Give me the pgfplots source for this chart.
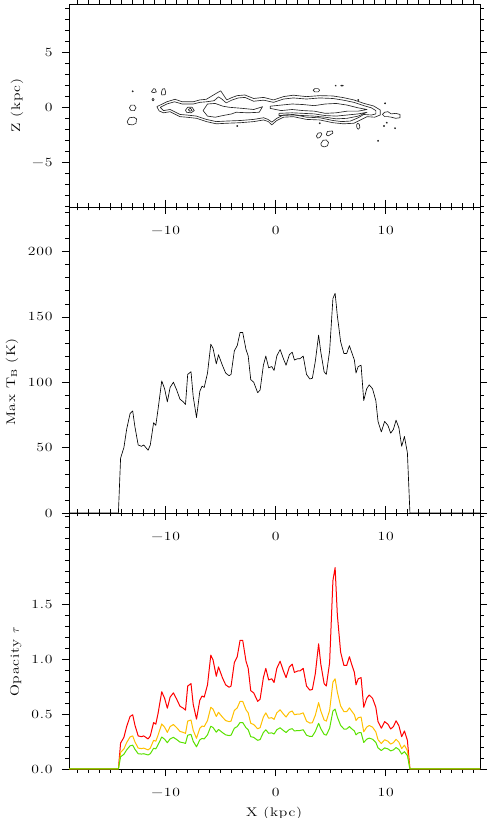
\documentclass[border=0pt]{standalone}
\usepackage{fontspec}
\setmainfont{Latin Modern Roman}[FakeStretch=1.25, LetterSpace=6]
\usepackage{pgfplots}
\usepackage{pgfplotstable}
\pgfplotsset{compat=1.18}
\definecolor{cred}{RGB}{255,0,0}
\definecolor{corange}{RGB}{255,192,0}
\definecolor{cgreen}{RGB}{90,225,0}

\pgfplotstableread{
x T r o g
-18.79 0 0 0 0
-14.3 0 0 0 0
-14.1 42 0.236 0.151 0.111
-13.8 50 0.288 0.182 0.134
-13.55 64 0.386 0.240 0.174
-13.24 76 0.478 0.292 0.211
-13.0 78 0.494 0.301 0.217
-12.8 66 0.400 0.248 0.180
-12.5 52 0.301 0.190 0.139
-12.2 51 0.294 0.186 0.136
-12.0 52 0.301 0.190 0.139
-11.6 48 0.274 0.174 0.128
-11.4 52 0.301 0.190 0.139
-11.1 69 0.423 0.261 0.189
-10.9 67 0.408 0.253 0.183
-10.7 79 0.503 0.306 0.220
-10.36 101 0.703 0.410 0.291
-10.1 95 0.644 0.381 0.271
-9.85 85 0.553 0.333 0.239
-9.6 96 0.654 0.386 0.274
-9.3 100 0.693 0.405 0.288
-9.0 94 0.635 0.376 0.268
-8.7 87 0.571 0.342 0.245
-8.4 85 0.553 0.333 0.239
-8.2 83 0.536 0.324 0.233
-8.0 106 0.755 0.436 0.308
-7.7 108 0.777 0.446 0.315
-7.5 89 0.589 0.352 0.252
-7.2 73 0.454 0.279 0.202
-6.9 93 0.626 0.371 0.265
-6.7 97 0.664 0.391 0.278
-6.5 96 0.654 0.386 0.274
-6.2 107 0.766 0.441 0.311
-5.9 129 1.036 0.562 0.389
-5.7 126 0.994 0.545 0.378
-5.4 114 0.844 0.478 0.335
-5.2 121 0.929 0.516 0.360
-4.85 113 0.832 0.473 0.332
-4.55 107 0.766 0.441 0.311
-4.24 105 0.744 0.431 0.304
-4.06 106 0.755 0.436 0.308
-3.76 124 0.968 0.533 0.371
-3.5 128 1.022 0.556 0.386
-3.24 138 1.171 0.616 0.423
-3.0 138 1.171 0.616 0.423
-2.7 125 0.981 0.539 0.375
-2.5 120 0.916 0.511 0.357
-2.27 102 0.713 0.416 0.294
-2.0 100 0.693 0.405 0.288
-1.64 92 0.616 0.366 0.261
-1.42 94 0.635 0.376 0.268
-1.12 113 0.832 0.473 0.332
-0.9 120 0.916 0.511 0.357
-0.64 111 0.810 0.462 0.325
-0.36 112 0.821 0.467 0.329
-0.15 109 0.787 0.452 0.318
0.1 120 0.916 0.511 0.357
0.4 125 0.981 0.539 0.375
0.7 118 0.892 0.500 0.350
0.94 113 0.832 0.473 0.332
1.24 121 0.929 0.516 0.360
1.5 123 0.954 0.528 0.367
1.7 117 0.879 0.494 0.346
2.0 118 0.892 0.500 0.350
2.2 118 0.892 0.500 0.350
2.5 120 0.916 0.511 0.357
2.8 106 0.755 0.436 0.308
3.1 102.5 0.718 0.418 0.296
3.33 103 0.724 0.421 0.298
3.6 116 0.868 0.489 0.342
3.9 136 1.139 0.604 0.416
4.1 123 0.954 0.528 0.367
4.4 108 0.777 0.446 0.315
4.6 106 0.755 0.436 0.308
4.9 124 0.968 0.533 0.371
5.2 164 1.715 0.791 0.528
5.4 168 1.833 0.821 0.545
5.6 151 1.406 0.700 0.474
5.9 131 1.064 0.574 0.397
6.2 122 0.942 0.522 0.364
6.45 122 0.942 0.522 0.364
6.7 128 1.022 0.556 0.386
6.9 123 0.954 0.528 0.367
7.15 117 0.879 0.494 0.346
7.3 107 0.766 0.441 0.311
7.5 112 0.821 0.467 0.329
7.76 113 0.832 0.473 0.332
8.0 86 0.562 0.338 0.242
8.27 95 0.644 0.381 0.271
8.5 98 0.673 0.396 0.281
8.8 95 0.644 0.381 0.271
9.1 86 0.562 0.338 0.242
9.3 70 0.431 0.266 0.192
9.6 62 0.371 0.232 0.168
9.9 70 0.431 0.266 0.192
10.2 67 0.408 0.253 0.183
10.45 61 0.364 0.227 0.165
10.7 64 0.386 0.240 0.174
10.94 71 0.439 0.270 0.195
11.2 65 0.393 0.244 0.177
11.45 51 0.294 0.186 0.136
11.7 58.5 0.346 0.217 0.158
11.97 46 0.261 0.166 0.122
12.2 0 0 0 0
18.57 0 0 0 0
}\profile

\newcommand{\lblfont}{\fontsize{12.5}{15}\selectfont}
\pgfplotsset{
  panel/.style={
    scale only axis, width=411pt, anchor=south west,
    xmin=-18.79, xmax=18.57,
    xtick={-10,0,10}, xticklabels={−10,0,10},
    minor xtick={-18,-17,...,18},
    tick align=outside,
    major tick length=7pt, minor tick length=3.5pt,
    every tick/.style={black, line width=0.5pt},
    axis line style={line width=0.6pt},
    font=\lblfont,
    every tick label/.append style={font=\lblfont},
    every axis label/.append style={font=\lblfont},
    xticklabel style={yshift=-9pt},
    yticklabel style={xshift=-6pt},
    every axis y label/.style={rotate=90, anchor=base, font=\lblfont},
    clip=false,
  },
  cont/.style={black!85, line width=0.65pt, line join=round},
}

\begin{document}
\begin{tikzpicture}
\useasboundingbox (0pt,0pt) rectangle (489pt,818pt);

% ---------------- Panel 1: contours ----------------
\begin{axis}[panel, at={(69pt,611pt)}, height=203pt,
  ymin=-9.06, ymax=9.39,
  ytick={-5,0,5}, yticklabels={−5,0,5},
  minor ytick={-9,-8,...,9},
  ylabel={Z (kpc)},
  ylabel style={at={(axis description cs:-0.119,0.5)}}]
% outer level
\addplot[cont] coordinates {(-10.8,0.06) (-9.9,0.5) (-9.15,0.73) (-8.5,0.5) (-7.5,0.5) (-6.9,0.67) (-6.3,0.73) (-5.4,1.27) (-5.0,1.5) (-4.75,1.12) (-4.45,0.67) (-4.0,0.88) (-3.5,1.06) (-2.8,1.12) (-2.0,0.8) (-1.1,0.9) (-0.2,0.67) (0.7,0.97) (1.6,1.1) (2.8,0.97) (4.0,1.06) (5.2,1.03) (6.15,0.88) (7.1,0.67) (8.0,0.36) (8.9,0.12) (9.5,-0.24) (9.5,-0.7) (9.0,-0.9) (8.3,-0.85) (7.7,-1.15) (7.1,-1.45) (6.15,-1.5) (5.2,-1.4) (4.0,-1.15) (2.8,-1.1) (1.6,-0.85) (0.7,-0.9) (0.1,-1.2) (-0.36,-1.6) (-0.67,-1.3) (-1.1,-1.15) (-2.0,-1.3) (-3.2,-1.4) (-4.45,-1.45) (-5.4,-1.5) (-6.3,-1.3) (-7.2,-1.0) (-8.1,-0.9) (-8.7,-0.85) (-9.6,-0.4) (-10.2,-0.5) (-10.6,-0.33) (-10.8,0.06)};
% second level
\addplot[cont] coordinates {(-10.5,0.0) (-9.9,0.3) (-9.2,0.5) (-8.5,0.3) (-7.5,0.3) (-6.9,0.45) (-6.3,0.5) (-5.6,0.6) (-5.2,0.95) (-4.9,0.75) (-4.5,0.4) (-4.0,0.65) (-3.4,0.85) (-2.8,0.9) (-2.0,0.55) (-1.1,0.65) (-0.2,0.45) (0.7,0.75) (1.6,0.85) (2.8,0.75) (4.0,0.85) (5.2,0.8) (6.15,0.65) (7.1,0.45) (8.0,0.15) (8.7,-0.05) (9.1,-0.3) (9.1,-0.6) (8.7,-0.7) (8.0,-0.65) (7.5,-0.95) (6.8,-1.25) (6.0,-1.3) (5.2,-1.2) (4.0,-0.95) (2.8,-0.9) (1.6,-0.65) (0.7,-0.7) (0.1,-1.0) (-0.35,-1.35) (-0.7,-1.1) (-1.1,-0.95) (-2.0,-1.1) (-3.2,-1.2) (-4.45,-1.25) (-5.4,-1.3) (-6.3,-1.1) (-7.2,-0.8) (-8.1,-0.7) (-8.7,-0.65) (-9.6,-0.2) (-10.2,-0.3) (-10.5,0.0)};
% hole between the two bands
\addplot[cont] coordinates {(-0.5,0.1) (0.5,0.2) (1.5,0.3) (2.5,0.25) (3.5,0.15) (4.5,0.3) (5.5,0.35) (6.5,0.2) (7.5,-0.05) (8.3,-0.2) (7.5,-0.35) (6.5,-0.35) (5.5,-0.5) (4.5,-0.55) (3.5,-0.35) (2.5,-0.3) (1.5,-0.2) (0.5,-0.3) (-0.5,-0.1) (-0.5,0.1)};
% inner level pieces
\addplot[cont] coordinates {(0.3,-0.55) (1.5,-0.5) (2.5,-0.55) (3.5,-0.6) (4.5,-0.75) (5.5,-0.8) (6.5,-0.7) (7.5,-0.6) (8.3,-0.45) (7.5,-0.8) (6.5,-1.0) (5.5,-1.05) (4.5,-0.9) (3.5,-0.8) (2.5,-0.75) (1.5,-0.7) (0.3,-0.75) (0.3,-0.55)};
\addplot[cont] coordinates {(-6.6,-0.3) (-6.2,0.3) (-5.5,0.35) (-4.8,0.1) (-4.2,0.0) (-3.0,-0.1) (-2.0,-0.2) (-1.2,0.05) (-1.5,-0.45) (-2.5,-0.5) (-3.6,-0.45) (-4.0,-0.6) (-4.8,-0.75) (-5.5,-0.9) (-6.2,-0.8) (-6.6,-0.3)};
\addplot[cont] coordinates {(-8.2,-0.25) (-8.0,0.0) (-7.6,0.0) (-7.4,-0.3) (-7.7,-0.5) (-8.1,-0.45) (-8.2,-0.25)};
\addplot[cont] coordinates {(-7.95,-0.22) (-7.75,-0.08) (-7.6,-0.28) (-7.8,-0.36) (-7.95,-0.22)};
% isolated loops
\addplot[cont] coordinates {(-13.06,1.45) (-13.0,1.51) (-12.94,1.45) (-13.0,1.39) (-13.06,1.45)};
\addplot[cont] coordinates {(-13.3,-0.05) (-13.15,0.2) (-12.85,0.2) (-12.7,-0.05) (-12.85,-0.3) (-13.15,-0.3) (-13.3,-0.05)};
\addplot[cont] coordinates {(-13.5,-1.3) (-13.3,-0.95) (-12.9,-0.9) (-12.65,-1.05) (-12.7,-1.45) (-13.0,-1.6) (-13.4,-1.55) (-13.5,-1.3)};
\addplot[cont] coordinates {(-11.3,1.4) (-11.1,1.7) (-10.95,1.65) (-10.85,1.4) (-11.1,1.33) (-11.3,1.4)};
\addplot[cont] coordinates {(-10.4,1.3) (-10.3,1.65) (-10.1,1.7) (-10.0,1.4) (-10.05,1.15) (-10.35,1.12) (-10.4,1.3)};
\addplot[cont] coordinates {(-11.25,0.7) (-11.15,0.82) (-11.05,0.7) (-11.15,0.58) (-11.25,0.7)};
\addplot[cont] coordinates {(3.4,1.55) (3.55,1.7) (3.85,1.7) (4.0,1.55) (3.85,1.4) (3.55,1.4) (3.4,1.55)};
\addplot[cont] coordinates {(5.4,1.97) (5.45,2.02) (5.5,1.97) (5.45,1.92) (5.4,1.97)};
\addplot[cont] coordinates {(5.9,1.97) (6.0,2.02) (6.15,1.97) (6.0,1.92) (5.9,1.97)};
\addplot[cont] coordinates {(7.44,0.67) (7.5,0.73) (7.56,0.67) (7.5,0.61) (7.44,0.67)};
\addplot[cont] coordinates {(9.88,0.36) (9.94,0.42) (10.0,0.36) (9.94,0.3) (9.88,0.36)};
\addplot[cont] coordinates {(9.24,-3.05) (9.3,-2.99) (9.36,-3.05) (9.3,-3.11) (9.24,-3.05)};
\addplot[cont] coordinates {(10.04,-1.4) (10.1,-1.34) (10.16,-1.4) (10.1,-1.46) (10.04,-1.4)};
\addplot[cont] coordinates {(9.79,-1.7) (9.85,-1.64) (9.91,-1.7) (9.85,-1.76) (9.79,-1.7)};
\addplot[cont] coordinates {(10.79,-1.9) (10.85,-1.84) (10.91,-1.9) (10.85,-1.96) (10.79,-1.9)};
\addplot[cont] coordinates {(3.94,-1.45) (4.0,-1.39) (4.06,-1.45) (4.0,-1.51) (3.94,-1.45)};
\addplot[cont] coordinates {(-3.56,-1.7) (-3.5,-1.64) (-3.44,-1.7) (-3.5,-1.76) (-3.56,-1.7)};
\addplot[cont] coordinates {(7.35,-1.6) (7.45,-1.45) (7.6,-1.55) (7.65,-1.85) (7.5,-2.0) (7.38,-1.85) (7.35,-1.6)};
\addplot[cont] coordinates {(3.7,-2.6) (3.85,-2.35) (4.1,-2.3) (4.2,-2.45) (4.0,-2.75) (3.8,-2.8) (3.7,-2.6)};
\addplot[cont] coordinates {(4.6,-2.5) (4.7,-2.2) (5.15,-2.15) (5.2,-2.35) (4.95,-2.5) (4.75,-2.6) (4.6,-2.5)};
\addplot[cont] coordinates {(4.1,-3.3) (4.3,-3.0) (4.6,-2.97) (4.8,-3.2) (4.7,-3.5) (4.4,-3.6) (4.15,-3.5) (4.1,-3.3)};
\addplot[cont] coordinates {(9.7,-0.65) (9.9,-0.45) (10.2,-0.4) (10.5,-0.6) (10.9,-0.55) (11.3,-0.65) (11.3,-0.95) (10.9,-1.0) (10.5,-0.9) (10.2,-0.85) (9.9,-0.85) (9.7,-0.65)};
\end{axis}

% ---------------- Panel 2: Max TB ----------------
\begin{axis}[panel, at={(69pt,305pt)}, height=306pt,
  ymin=0, ymax=234,
  ytick={0,50,100,150,200}, yticklabels={0,50,100,150,200},
  minor ytick={10,20,...,230},
  ylabel={Max T\textsubscript{B} (K)},
  ylabel style={at={(axis description cs:-0.131,0.428)}}]
\addplot[black, line width=0.65pt, line join=round] table[x=x, y=T] {\profile};
\end{axis}

% ---------------- Panel 3: opacity ----------------
\begin{axis}[panel, at={(69pt,49pt)}, height=256pt,
  ymin=0, ymax=2.33,
  ytick={0,0.5,1,1.5}, yticklabels={0.0,0.5,1.0,1.5},
  minor ytick={0.1,0.2,0.3,0.4,0.6,0.7,0.8,0.9,1.1,1.2,1.3,1.4,1.6,1.7,1.8,1.9,2.0,2.1,2.2,2.3},
  xlabel={X (kpc)},
  xlabel style={at={(axis description cs:0.499,0)}, anchor=base, yshift=-47pt},
  ylabel={Opacity $\tau$},
  ylabel style={at={(axis description cs:-0.122,0.418)}}]
\addplot[cred, line width=1pt, line join=round] table[x=x, y=r] {\profile};
\addplot[corange, line width=1pt, line join=round] table[x=x, y=o] {\profile};
\addplot[cgreen, line width=1pt, line join=round] table[x=x, y=g] {\profile};
\end{axis}
\end{tikzpicture}
\end{document}
